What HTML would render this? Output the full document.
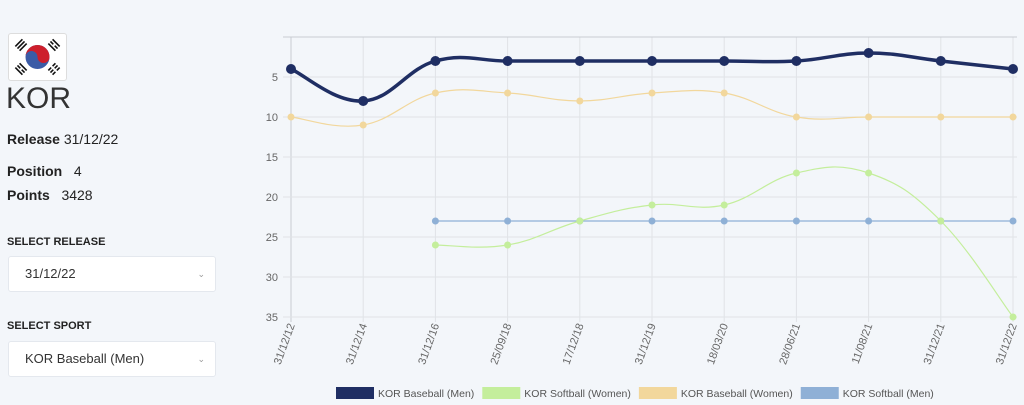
<!DOCTYPE html>
<html><head><meta charset="utf-8"><style>
body{margin:0;width:1024px;height:405px;background:#f3f6fa;font-family:"Liberation Sans",sans-serif;color:#222;position:relative;overflow:hidden}
.a{position:absolute}
.sel{position:absolute;left:8px;width:208px;height:36px;background:#fff;border:1px solid #e4e8ee;border-radius:3px;font-size:13px;color:#333;box-sizing:border-box;padding:0 16px;line-height:34px}
.sel span{position:absolute;right:10px;top:0;font-size:9px;color:#999}
.lab{font-size:11px;font-weight:bold;color:#222}
</style></head><body>
<div class="a" style="left:8px;top:33px;width:57px;height:46px;background:#fff;border:1px solid #ddd;border-radius:3px">
<svg width="57" height="46" viewBox="0 0 57 46"><circle cx="28.5" cy="23" r="12" fill="#3b5ba6"/><path d="M16.5 23a12 12 0 0 1 24 0a6 6 0 0 1-12 0a6 6 0 0 0-12 0z" fill="#cd1f2c"/>
<g stroke="#111" stroke-width="1.6">
<g transform="rotate(-45 12 11)"><line x1="7" y1="8" x2="17" y2="8"/><line x1="7" y1="11" x2="17" y2="11"/><line x1="7" y1="14" x2="17" y2="14"/></g>
<g transform="rotate(45 45 11)"><line x1="40" y1="8" x2="50" y2="8"/><line x1="40" y1="11" x2="44" y2="11"/><line x1="46" y1="11" x2="50" y2="11"/><line x1="40" y1="14" x2="50" y2="14"/></g>
<g transform="rotate(45 12 35)"><line x1="7" y1="32" x2="17" y2="32"/><line x1="7" y1="35" x2="11" y2="35"/><line x1="13" y1="35" x2="17" y2="35"/><line x1="7" y1="38" x2="17" y2="38"/></g>
<g transform="rotate(-45 45 35)"><line x1="40" y1="32" x2="44" y2="32"/><line x1="46" y1="32" x2="50" y2="32"/><line x1="40" y1="35" x2="44" y2="35"/><line x1="46" y1="35" x2="50" y2="35"/><line x1="40" y1="38" x2="44" y2="38"/><line x1="46" y1="38" x2="50" y2="38"/></g>
</g></svg></div>
<div class="a" style="left:6px;top:82px;font-size:30px;color:#333">KOR</div>
<div class="a" style="left:7px;top:131px;font-size:14px"><b>Release</b> 31/12/22</div>
<div class="a" style="left:7px;top:163px;font-size:14px"><b>Position</b> &nbsp; 4</div>
<div class="a" style="left:7px;top:187px;font-size:14px"><b>Points</b> &nbsp; 3428</div>
<div class="a lab" style="left:7px;top:236px">SELECT RELEASE</div>
<div class="sel" style="top:256px">31/12/22<span>&#8964;</span></div>
<div class="a lab" style="left:7px;top:320px">SELECT SPORT</div>
<div class="sel" style="top:341px">KOR Baseball (Men)<span>&#8964;</span></div>
<svg class="a" style="left:0;top:0" width="1024" height="405" id="chart"></svg>
<script>
const categories=["31/12/12","31/12/14","31/12/16","25/09/18","17/12/18","31/12/19","18/03/20","28/06/21","11/08/21","31/12/21","31/12/22"];
const yTicks=[5,10,15,20,25,30,35];
const baseballMen=[4,8,3,3,3,3,3,3,2,3,4];
const softballWomen=[null,null,26,26,23,21,21,17,17,23,35];
const baseballWomen=[10,11,7,7,8,7,7,10,10,10,10];
const softballMen=[null,null,23,23,23,23,23,23,23,23,23];
const series=[
 {name:"KOR Softball (Men)",data:softballMen,c:"#8fb0d6",w:1.2,r:3.5,k:"softball-men"},
 {name:"KOR Softball (Women)",data:softballWomen,c:"#c4ee9c",w:1.2,r:3.5,k:"softball-women"},
 {name:"KOR Baseball (Women)",data:baseballWomen,c:"#f2d79c",w:1.2,r:3.5,k:"baseball-women"},
 {name:"KOR Baseball (Men)",data:baseballMen,c:"#1f2e63",w:3.5,r:5,k:"baseball-men"}];
const legendOrder=[3,1,2,0];
const svg=document.getElementById('chart'),NS="http://www.w3.org/2000/svg";
const X0=291,X1=1013,Y0=37,YU=8;
const x=i=>X0+i*(X1-X0)/(categories.length-1);
const y=v=>Y0+v*YU;
function el(t,a,p){const e=document.createElementNS(NS,t);for(const k in a)e.setAttribute(k,a[k]);(p||svg).appendChild(e);return e;}
categories.forEach((c,i)=>{const g=el('line',{x1:x(i),x2:x(i),y1:Y0,y2:y(35)+5,stroke:i==0?'#c8ccd2':'#e0e3e7'});

const t=el('text',{x:0,y:0,'font-size':11,fill:'#666','text-anchor':'end',transform:`translate(${x(i)+4},${y(35)+8}) rotate(-70)`});t.textContent=c;
});
el('line',{x1:283,x2:1017,y1:Y0,y2:Y0,stroke:'#c8ccd2'});
yTicks.forEach(v=>{const g=el('line',{x1:283,x2:1017,y1:y(v),y2:y(v),stroke:'#e0e3e7'});

const t=el('text',{x:278,y:y(v)+4,'font-size':11,fill:'#666','text-anchor':'end'});t.textContent=v;
});
function path(pts){const T=0.4;let d=`M${pts[0][0]},${pts[0][1]}`;
for(let i=0;i<pts.length-1;i++){const p0=pts[i-1]||pts[i],p1=pts[i],p2=pts[i+1],p3=pts[i+2]||p2;
const c1=[p1[0]+(p2[0]-p0[0])*T/2,p1[1]+(p2[1]-p0[1])*T/2],c2=[p2[0]-(p3[0]-p1[0])*T/2,p2[1]-(p3[1]-p1[1])*T/2];
d+=`C${c1[0]},${c1[1]} ${c2[0]},${c2[1]} ${p2[0]},${p2[1]}`;}return d;}
series.forEach(s=>{const pts=[];s.data.forEach((v,i)=>{if(v!=null)pts.push([x(i),y(v)]);});
const p=el('path',{d:path(pts),fill:'none',stroke:s.c,'stroke-width':s.w});

pts.forEach(q=>{const c=el('circle',{cx:q[0],cy:q[1],r:s.r,fill:s.c});
});});
let lx=336;legendOrder.forEach(j=>{const s=series[j];const g=el('g',{});

el('rect',{x:lx,y:387,width:38,height:12,fill:s.c},g);
const t=el('text',{x:lx+42,y:397,'font-size':10.5,fill:'#555'},g);t.textContent=s.name;
lx+=42+t.getComputedTextLength()+8;});
</script>
</body></html>
